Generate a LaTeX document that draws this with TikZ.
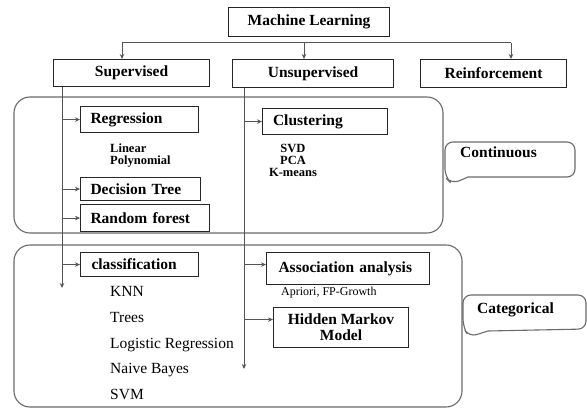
\documentclass[tikz,border=0pt]{standalone}
\usepackage{fontspec}
\setmainfont{Liberation Serif}
\usetikzlibrary{arrows.meta}
\definecolor{linegray}{HTML}{555555}
\definecolor{panelgray}{HTML}{6A6A6A}
\newcommand{\headfont}{\fontsize{15.5}{16}\selectfont\bfseries}
\newcommand{\subfont}{\fontsize{12.5}{12}\selectfont\bfseries}
\newcommand{\listfont}{\fontsize{15.5}{17}\selectfont}
\newcommand{\notefont}{\fontsize{12}{13}\selectfont}

\begin{document}
\begin{tikzpicture}[x=1pt, y=-1pt,
  box/.style={draw=black!85, line width=1.1pt, font=\headfont, inner sep=0pt, anchor=north west},
  leftbox/.style={box, align=left, inner xsep=10pt},
  panel/.style={draw=panelgray, line width=1.1pt, rounded corners=16pt},
  balloon/.style={draw=panelgray, line width=1.1pt},
  line/.style={draw=linegray, line width=1pt},
  arr/.style={line, -{Stealth[length=5pt, width=4.5pt]}},
  item/.style={font=\listfont, anchor=base west, inner sep=0pt},
  subitem/.style={font=\subfont, inner sep=0pt}
]
  \useasboundingbox (0,0) rectangle (587,409);

  % Continuous / categorical panels
  \draw[panel] (14,97) rectangle (443,233);
  \draw[panel] (14,245) rectangle (462,407);

  % Top of the tree
  \node[box, minimum width=161pt, minimum height=29pt] (ml) at (228,7) {Machine Learning};
  \node[box, minimum width=156pt, minimum height=27pt] (sup) at (53,59) {Supervised};
  \node[box, minimum width=161pt, minimum height=28pt] (unsup) at (232,59) {Unsupervised};
  \node[box, minimum width=146pt, minimum height=28pt] (reinf) at (420,59) {Reinforcement};

  \coordinate (busL) at (122,43);
  \coordinate (busM) at (304,43);
  \coordinate (busR) at (511,43);
  \draw[line] (busL) -- (busR);
  \draw[arr] (busL) -- (busL |- sup.north);
  \draw[arr] (busM) -- (busM |- unsup.north);
  \draw[arr] (busR) -- (busR |- reinf.north);

  % Supervised branch
  \node[leftbox, text width=98pt, minimum height=26pt] (reg) at (80,106) {Regression};
  \node[subitem, anchor=base west] (lin) at (110,153) {Linear};
  \node[subitem, anchor=base west] (poly) at (110,165) {Polynomial};
  \node[leftbox, text width=100pt, minimum height=23pt] (dtree) at (80,177) {Decision Tree};
  \node[leftbox, text width=109pt, minimum height=27pt] (rforest) at (80,204) {Random forest};
  \node[leftbox, text width=96pt, inner xsep=11pt, minimum height=24pt] (clas) at (80,252) {classification};
  \node[item] (knn) at (110,296) {KNN};
  \node[item] (trees) at (110,322) {Trees};
  \node[item] (logreg) at (110,348) {Logistic Regression};
  \node[item] (nbayes) at (110,373) {Naive Bayes};
  \node[item] (svm) at (110,399) {SVM};

  \coordinate (supx) at (62,0);
  \coordinate (supend) at (62,288);
  \draw[arr] (supx |- sup.south) -- (supend);
  \draw[arr] (supx |- reg.west) -- (reg.west); \draw[arr] (supx |- dtree.west) -- (dtree.west);
  \draw[arr] (supx |- rforest.west) -- (rforest.west); \draw[arr] (supx |- clas.west) -- (clas.west);

  % Unsupervised branch
  \node[leftbox, text width=104pt, inner xsep=10.5pt, minimum height=26pt] (clus) at (262,108) {Clustering};
  \node[subitem, anchor=base] (svd) at (293,153) {SVD};
  \node[subitem, anchor=base] (pca) at (293,165) {PCA};
  \node[subitem, anchor=base] (kmeans) at (293,177) {K-means};
  \node[leftbox, text width=139pt, inner xsep=12pt, minimum height=32pt] (assoc) at (266,252) {Association analysis};
  \node[font=\notefont, anchor=base west, inner sep=0pt] (apriori) at (281,295) {Apriori, FP-Growth};
  \node[box, align=center, minimum width=135pt, minimum height=40pt] (hmm) at (273,307) {Hidden Markov\\Model};

  \coordinate (unsx) at (244,0);
  \coordinate (unsend) at (244,369);
  \coordinate (associn) at ([yshift=4pt]assoc.west);
  \coordinate (hmmin) at ([yshift=8pt]hmm.west);
  \draw[arr] (unsx |- unsup.south) -- (unsend);
  \draw[arr] (unsx |- clus.west) -- (clus.west);
  \draw[arr] (unsx |- associn) -- (associn); \draw[arr] (unsx |- hmmin) -- (hmmin);

  % Speech balloons
  \draw[balloon] (452,184) -- (468,177) [rounded corners=8pt] -- (575,177) -- (575,142) -- (445,142) -- (445,177) -- cycle;
  \node[font=\headfont, anchor=base west, inner sep=0pt] (cont) at (460,158) {Continuous};
  \draw[balloon] (469,337) -- (488,331) [rounded corners=8pt] -- (586,329) -- (586,295) -- (463,295) -- (463,327) -- cycle;
  \node[font=\headfont, anchor=base west, inner sep=0pt] (categ) at (477,313) {Categorical};
\end{tikzpicture}
\end{document}
